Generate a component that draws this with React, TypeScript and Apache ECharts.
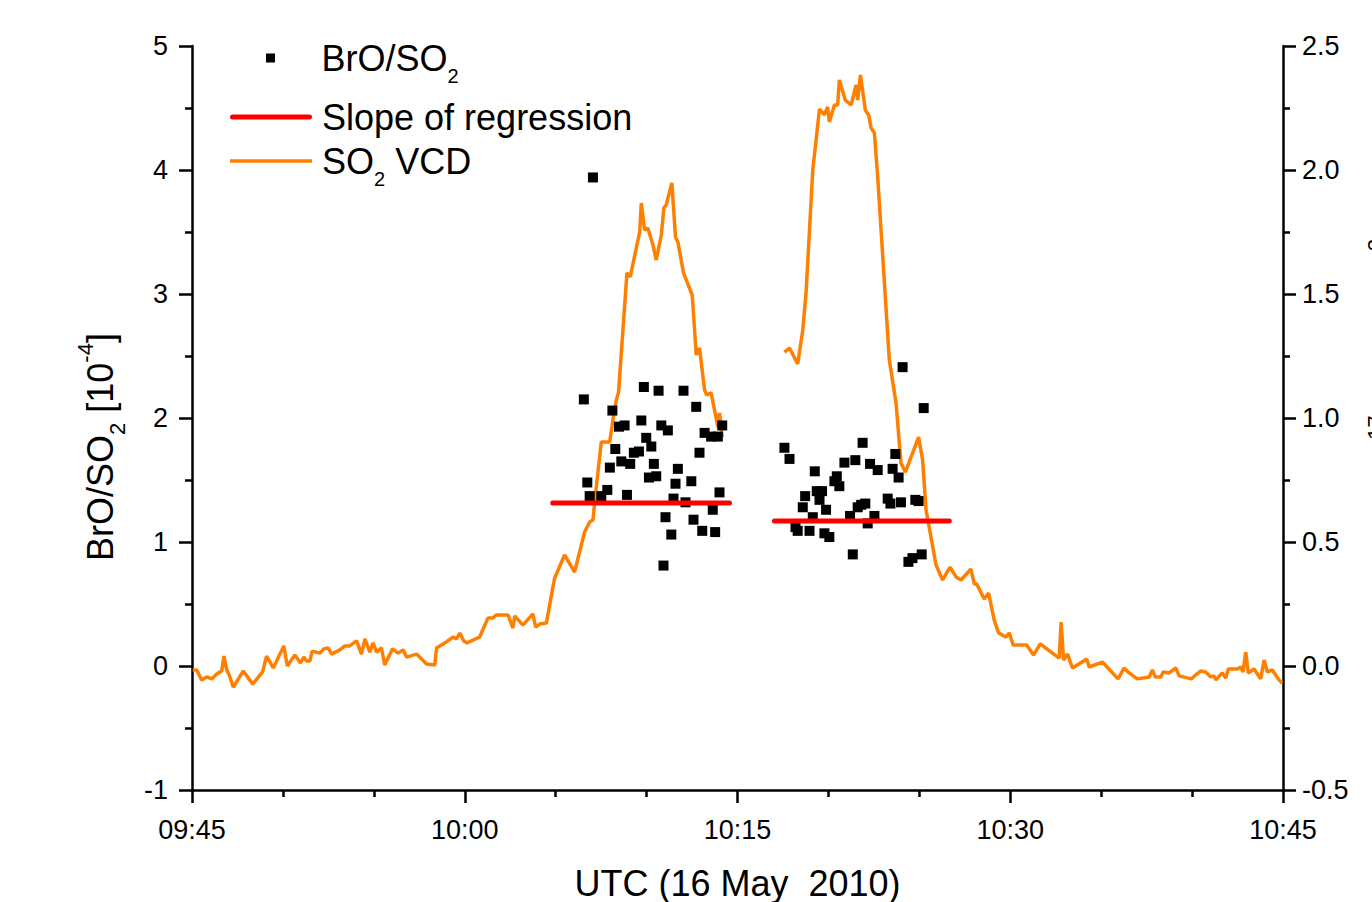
import React, { useEffect, useRef } from 'react';
import * as echarts from 'echarts';

const FONT = '"Liberation Sans", Arial, Helvetica, sans-serif';

// x axis: minutes after 09:45 UTC
const xTickLabels = ['09:45', '10:00', '10:15', '10:30', '10:45'];

// SO2 VCD (right axis), first segment
const vcdTime1 = [0.04,0.26,0.53,0.81,1.08,1.36,1.63,1.76,1.91,2.05,
  2.27,2.82,3.34,3.88,4.10,4.47,5.05,5.24,5.66,5.97,
  6.15,6.30,6.48,6.61,7.03,7.25,7.49,7.68,8.13,8.41,
  8.68,9.05,9.32,9.51,9.78,9.96,10.15,10.42,10.60,11.03,
  11.34,11.61,11.80,12.35,12.90,13.35,13.45,13.99,14.36,14.54,
  14.73,14.95,15.13,15.82,16.28,16.55,16.74,17.38,17.65,17.75,
  18.20,18.75,18.90,19.12,19.49,19.85,19.95,20.49,21.04,21.59,
  21.87,22.05,22.20,22.51,22.97,23.19,23.34,23.46,23.92,24.10,
  24.62,24.71,24.89,25.07,25.35,25.53,25.81,25.95,26.08,26.39,
  26.59,26.72,27.03,27.51,27.73,27.91,28.19,28.31,28.55,28.92,
  29.01,29.16];
const vcdValue1 = [-0.016,-0.016,-0.056,-0.044,-0.052,-0.032,-0.020,0.040,-0.016,-0.036,
  -0.085,-0.020,-0.073,-0.024,0.040,-0.008,0.081,0.0,0.044,0.012,
  0.036,0.020,0.020,0.060,0.052,0.069,0.073,0.048,0.065,0.081,
  0.081,0.101,0.048,0.109,0.056,0.093,0.056,0.073,0.004,0.069,
  0.052,0.065,0.036,0.048,0.008,0.004,0.073,0.097,0.117,0.109,
  0.133,0.101,0.093,0.117,0.194,0.194,0.206,0.206,0.153,0.202,
  0.165,0.210,0.157,0.169,0.173,0.319,0.355,0.448,0.379,0.540,
  0.581,0.589,0.698,0.903,0.903,1.012,1.073,1.105,1.585,1.569,
  1.750,1.867,1.758,1.766,1.698,1.637,1.738,1.847,1.859,1.948,
  1.730,1.710,1.585,1.496,1.254,1.282,1.113,1.093,1.101,0.964,
  1.020,0.923];

// SO2 VCD, second segment
const vcdTime2 = [32.58,32.86,33.31,33.59,33.77,34.14,34.51,34.78,34.96,35.05,
  35.33,35.51,35.60,35.93,36.25,36.52,36.61,36.76,37.03,37.21,
  37.35,37.53,37.71,38.35,38.72,38.99,39.23,39.96,40.18,40.37,
  40.92,41.28,41.69,42.02,42.29,42.84,43.02,43.15,43.57,43.81,
  44.12,44.36,44.76,44.95,45.16,45.90,46.28,46.65,47.69,47.80,
  47.93,48.15,48.42,49.21,49.34,50.07,50.93,51.26,51.54,51.99,
  52.64,52.82,52.97,53.28,53.41,53.74,54.10,54.29,54.96,55.20,
  55.48,55.75,56.03,56.21,56.30,56.66,56.85,56.99,57.49,57.68,
  57.80,57.95,58.09,58.41,58.77,58.96,59.14,59.41,59.78,59.95];
const vcdValue2 = [1.266,1.282,1.218,1.355,1.504,2.000,2.246,2.222,2.254,2.194,
  2.262,2.262,2.363,2.282,2.262,2.343,2.282,2.383,2.242,2.222,
  2.169,2.149,1.972,1.234,1.060,0.819,0.782,0.923,0.831,0.629,
  0.407,0.347,0.399,0.359,0.347,0.391,0.331,0.331,0.270,0.294,
  0.185,0.133,0.117,0.133,0.085,0.085,0.044,0.089,0.032,0.177,
  0.024,0.048,-0.008,0.028,-0.004,0.016,-0.052,-0.008,-0.028,-0.052,
  -0.044,-0.016,-0.044,-0.044,-0.024,-0.028,-0.008,-0.040,-0.052,-0.036,
  -0.020,-0.024,-0.044,-0.040,-0.056,-0.028,-0.048,-0.012,-0.012,-0.004,
  -0.024,0.056,-0.028,-0.012,-0.052,0.024,-0.024,-0.016,-0.056,-0.069];

// BrO/SO2 ratio (left axis, 10^-4)
const ratioTime = [21.55,21.74,21.87,22.05,22.51,22.84,22.98,23.12,23.28,23.48,
  23.61,23.79,23.92,24.10,24.30,24.58,24.71,24.85,24.98,25.13,
  25.26,25.40,25.53,25.66,25.81,25.93,26.04,26.17,26.36,26.48,
  26.59,26.72,27.03,27.14,27.46,27.58,27.73,27.91,28.06,28.19,
  28.55,28.64,28.77,28.92,29.01,29.16,
  32.58,32.86,33.19,33.31,33.59,33.72,33.96,34.14,34.25,34.36,
  34.51,34.65,34.78,34.87,35.05,35.33,35.46,35.60,35.88,36.19,
  36.34,36.48,36.61,36.80,36.88,37.03,37.16,37.29,37.53,37.71,
  38.26,38.41,38.53,38.68,38.86,38.99,39.08,39.40,39.62,39.78,
  39.96,40.13,40.24];
const ratioValue = [2.15,1.48,1.37,3.94,1.37,1.42,1.60,2.06,1.75,1.93,
  1.65,1.94,1.38,1.63,1.72,1.73,1.98,2.25,1.84,1.52,
  1.77,1.63,1.53,2.22,1.94,0.81,1.20,1.90,1.06,1.35,
  1.47,1.59,2.22,1.32,1.49,1.18,2.09,1.72,1.09,1.88,
  1.85,1.26,1.08,1.85,1.40,1.94,
  1.76,1.67,1.12,1.09,1.28,1.37,1.09,1.20,1.57,1.41,
  1.34,1.41,1.07,1.26,1.04,1.49,1.53,1.45,1.64,1.21,
  0.90,1.66,1.28,1.30,1.80,1.31,1.15,1.63,1.21,1.58,
  1.35,1.31,1.59,1.71,1.52,1.32,2.41,0.84,0.87,1.34,
  1.33,0.90,2.08];

// regression slopes
const slopeTime1 = [19.84, 29.56];
const slopeValue1 = 1.315;
const slopeTime2 = [32.03, 41.65];
const slopeValue2 = 1.17;

const zip = (t: number[], v: number[]) => t.map((x, i) => [x, v[i]]);

const ORANGE = '#FF8000';
const RED = '#FF0000';

const tickStyle = { color: '#000', width: 2.5 };

export default function App() {
  const ref = useRef<HTMLDivElement>(null);
  useEffect(() => {
    if (!ref.current) return;
    const chart = echarts.init(ref.current, null, { renderer: 'svg' });
    const legendRich = {
      a: { fontSize: 36, lineHeight: 44, color: '#000', fontFamily: FONT },
      s: { fontSize: 20, lineHeight: 44, color: '#000', fontFamily: FONT, padding: [36, 0, 0, 0] },
    };
    const nameRich = {
      a: { fontSize: 36, lineHeight: 36, fill: '#000', fontFamily: FONT },
      s: { fontSize: 22, lineHeight: 36, fill: '#000', fontFamily: FONT, padding: [34, 0, 0, 0] },
      p: { fontSize: 22, lineHeight: 36, fill: '#000', fontFamily: FONT, padding: [0, 0, 30, 0] },
    };
    const legendText: Record<string, string> = {
      'BrO/SO2': '{a|BrO/SO}{s|2}',
      'Slope of regression': '{a|Slope of regression}',
      'SO2 VCD': '{a|SO}{s|2}{a| VCD}',
    };
    const legendBase = {
      orient: 'vertical',
      left: 230,
      padding: 0,
      itemGap: 0,
      itemWidth: 82,
      itemHeight: 9,
      selectedMode: false,
      itemStyle: { borderWidth: 0 },
      formatter: (name: string) => legendText[name] || name,
      textStyle: { padding: [0, 0, 0, 5], rich: legendRich, fontFamily: FONT },
    };
    const option: any = {
      animation: false,
      backgroundColor: '#ffffff',
      textStyle: { fontFamily: FONT },
      grid: { left: 192, right: 89, top: 46, bottom: 112, containLabel: false, outerBoundsMode: 'none' },
      legend: [
        { ...legendBase, left: 266, top: 30, data: [{ name: 'BrO/SO2', icon: 'path://M0,0h10v10h-10z' }] },
        { ...legendBase, top: 99, data: [{ name: 'Slope of regression', icon: 'path://M2.5,0h77a2.5,2.5 0 0 1 0,5h-77a2.5,2.5 0 0 1 0,-5z' }] },
        { ...legendBase, top: 133, data: [{ name: 'SO2 VCD', icon: 'path://M0,0h82v3.5h-82z' }] },
      ],
      xAxis: {
        type: 'value',
        min: 0,
        max: 60,
        interval: 15,
        axisLine: { show: true, onZero: false, lineStyle: tickStyle },
        axisTick: { show: true, length: 13, lineStyle: tickStyle },
        minorTick: { show: true, splitNumber: 3, length: 7, lineStyle: tickStyle },
        splitLine: { show: false },
        minorSplitLine: { show: false },
        axisLabel: {
          fontSize: 27, color: '#000', margin: 26, fontFamily: FONT,
          showMinLabel: true, showMaxLabel: true,
          formatter: (v: number) => xTickLabels[Math.round(v / 15)] ?? '',
        },
        name: 'UTC (16 May  2010)',
        nameLocation: 'middle',
        nameGap: 75,
        nameTextStyle: { fontSize: 36, color: '#000', lineHeight: 36, fontFamily: FONT },
      },
      yAxis: [
        {
          type: 'value',
          position: 'left',
          min: -1,
          max: 5,
          interval: 1,
          axisLine: { show: true, onZero: false, lineStyle: tickStyle },
          axisTick: { show: true, length: 13, lineStyle: tickStyle },
          minorTick: { show: true, splitNumber: 2, length: 7, lineStyle: tickStyle },
          splitLine: { show: false },
          minorSplitLine: { show: false },
          axisLabel: { fontSize: 27, color: '#000', margin: 24, fontFamily: FONT },
        },
        {
          type: 'value',
          position: 'right',
          min: -0.5,
          max: 2.5,
          interval: 0.5,
          axisLine: { show: true, onZero: false, lineStyle: tickStyle },
          axisTick: { show: true, length: 13, lineStyle: tickStyle },
          minorTick: { show: true, splitNumber: 2, length: 7, lineStyle: tickStyle },
          splitLine: { show: false },
          minorSplitLine: { show: false },
          axisLabel: {
            fontSize: 27, color: '#000', margin: 19, fontFamily: FONT,
            formatter: (v: number) => v.toFixed(1),
          },
        },
      ],
      series: [
        {
          name: 'SO2 VCD', type: 'line', yAxisIndex: 1, symbol: 'none', showSymbol: false,
          data: zip(vcdTime1, vcdValue1), z: 2,
          lineStyle: { color: ORANGE, width: 3.5 }, itemStyle: { color: ORANGE },
        },
        {
          name: 'SO2 VCD', type: 'line', yAxisIndex: 1, symbol: 'none', showSymbol: false,
          data: zip(vcdTime2, vcdValue2), z: 2,
          lineStyle: { color: ORANGE, width: 3.5 }, itemStyle: { color: ORANGE },
        },
        {
          name: 'BrO/SO2', type: 'scatter', yAxisIndex: 0, symbol: 'rect', symbolSize: 10,
          data: zip(ratioTime, ratioValue), z: 3,
          itemStyle: { color: '#000', opacity: 1 },
        },
        {
          name: 'Slope of regression', type: 'line', yAxisIndex: 0, symbol: 'none', showSymbol: false,
          data: slopeTime1.map((t) => [t, slopeValue1]), z: 4,
          lineStyle: { color: RED, width: 5, cap: 'round' }, itemStyle: { color: RED },
        },
        {
          name: 'Slope of regression', type: 'line', yAxisIndex: 0, symbol: 'none', showSymbol: false,
          data: slopeTime2.map((t) => [t, slopeValue2]), z: 4,
          lineStyle: { color: RED, width: 5, cap: 'round' }, itemStyle: { color: RED },
        },
      ],
      graphic: [
        {
          type: 'text',
          x: 100,
          y: 447,
          rotation: Math.PI / 2,
          style: {
            text: '{a|BrO/SO}{s|2}{a| [10}{p|-4}{a|]}',
            rich: nameRich,
            align: 'center',
            verticalAlign: 'middle',
            fill: '#000',
          },
        },
        {
          type: 'text',
          x: 1390,
          y: 650,
          rotation: Math.PI / 2,
          style: {
            text: '{a|SO}{s|2}{a| VCD [10}{p|17}{a| molec/cm}{p|2}{a|]}',
            rich: nameRich,
            align: 'left',
            verticalAlign: 'middle',
            fill: '#000',
          },
        },
      ],
    };
    chart.setOption(option);
    return () => chart.dispose();
  }, []);
  return (
    <div
      ref={ref}
      style={{ position: 'absolute', left: 0, top: 0, width: 1372, height: 902, background: '#fff' }}
    />
  );
}
